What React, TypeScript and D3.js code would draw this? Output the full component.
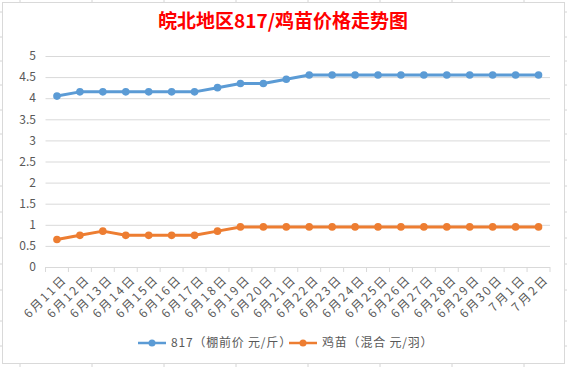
import React from "react";
import * as d3 from "d3";

// Price trend chart: 817 broiler (棚前价) vs chick price, daily.

const DATES = [
  "6月11日", "6月12日", "6月13日", "6月14日", "6月15日", "6月16日", "6月17日",
  "6月18日", "6月19日", "6月20日", "6月21日", "6月22日", "6月23日", "6月24日",
  "6月25日", "6月26日", "6月27日", "6月28日", "6月29日", "6月30日", "7月1日", "7月2日",
];
const PRICE_817 = [
  4.05, 4.15, 4.15, 4.15, 4.15, 4.15, 4.15, 4.25, 4.35, 4.35, 4.45,
  4.55, 4.55, 4.55, 4.55, 4.55, 4.55, 4.55, 4.55, 4.55, 4.55, 4.55,
];
const PRICE_CHICK = [
  0.65, 0.75, 0.85, 0.75, 0.75, 0.75, 0.75, 0.85, 0.95, 0.95, 0.95,
  0.95, 0.95, 0.95, 0.95, 0.95, 0.95, 0.95, 0.95, 0.95, 0.95, 0.95,
];
const Y_TICKS = [0, 0.5, 1, 1.5, 2, 2.5, 3, 3.5, 4, 4.5, 5];
const SERIES_NAMES = ["817（棚前价 元/斤）", "鸡苗（混合 元/羽）"];

// spreadsheet cell grid peeking out around the chart object
const SHEET_COLS = [20, 92, 164, 236, 308, 380, 452, 524];
const SHEET_ROWS = [12, 37, 61, 85, 110, 134, 160, 186, 212, 238, 264, 290, 321, 346];

const W = 567;
const H = 367;
const BLUE = "#5B9BD5";
const ORANGE = "#ED7D31";
const GRID = "#D9D9D9";
const TEXT = "#595959";
const FONT = "'Noto Sans CJK SC', 'Noto Sans', sans-serif";

const PLOT = { left: 45.5, right: 550, top: 56, bottom: 267 };

export default function App() {
  const x = d3
    .scaleBand<string>()
    .domain(DATES)
    .range([PLOT.left, PLOT.right])
    .padding(0);
  const y = d3.scaleLinear().domain([0, 5]).range([PLOT.bottom, PLOT.top]);
  const cx = (d: string) => (x(d) ?? 0) + x.bandwidth() / 2;

  const line = d3
    .line<number>()
    .x((_, i) => cx(DATES[i]))
    .y((v) => y(v));

  const series = [
    { name: SERIES_NAMES[0], values: PRICE_817, color: BLUE },
    { name: SERIES_NAMES[1], values: PRICE_CHICK, color: ORANGE },
  ];

  const legendItems = [
    { x: 138, color: BLUE, name: SERIES_NAMES[0] },
    { x: 289, color: ORANGE, name: SERIES_NAMES[1] },
  ];

  return (
    <svg
      width={W}
      height={H}
      style={{ position: "fixed", left: 0, top: 0, background: "#fff" }}
      fontFamily={FONT}
    >
      {/* sheet grid stubs */}
      {SHEET_COLS.map((c) => (
        <g key={"c" + c}>
          <line x1={c} x2={c} y1={0} y2={2} stroke="#D4D4D4" />
          <line x1={c} x2={c} y1={364} y2={H} stroke="#D4D4D4" />
        </g>
      ))}
      {SHEET_ROWS.map((r) => (
        <g key={"r" + r}>
          <line x1={0} x2={2} y1={r} y2={r} stroke="#D4D4D4" />
          <line x1={565} x2={W} y1={r} y2={r} stroke="#D4D4D4" />
        </g>
      ))}

      {/* chart frame */}
      <rect x={2.5} y={2.5} width={562} height={361} fill="#fff" stroke={GRID} />

      <text
        x={283}
        y={28}
        textAnchor="middle"
        fontSize={19}
        fontWeight="bold"
        fill="#FF0000"
      >
        皖北地区817/鸡苗价格走势图
      </text>

      {/* gridlines + y labels */}
      {Y_TICKS.map((t) => (
        <g key={t}>
          {t !== 0 && (
            <line x1={PLOT.left} x2={PLOT.right} y1={y(t) + 0.5} y2={y(t) + 0.5} stroke={GRID} />
          )}
          <text x={36} y={y(t)} dy="0.35em" textAnchor="end" fontSize={12} fill={TEXT}>
            {t}
          </text>
        </g>
      ))}

      {/* x axis */}
      <line x1={PLOT.left} x2={PLOT.right} y1={PLOT.bottom + 0.5} y2={PLOT.bottom + 0.5} stroke={GRID} />
      {[...DATES.map((d) => x(d) ?? 0), PLOT.right].map((px, i) => (
        <line key={i} x1={px} x2={px} y1={PLOT.bottom} y2={PLOT.bottom + 5} stroke={GRID} />
      ))}
      {DATES.map((d) => (
        <text
          key={d}
          transform={`translate(${cx(d) + 5},${PLOT.bottom + 7}) rotate(-45)`}
          textAnchor="end"
          dy="0.7em"
          fontSize={12}
          letterSpacing={2.2}
          fill={TEXT}
        >
          {d}
        </text>
      ))}

      {/* series */}
      {series.map((s) => (
        <g key={s.name}>
          <path
            d={line(s.values) ?? ""}
            fill="none"
            stroke={s.color}
            strokeWidth={3}
            strokeLinejoin="round"
            strokeLinecap="round"
          />
          {s.values.map((v, i) => (
            <circle key={i} cx={cx(DATES[i])} cy={y(v)} r={3.8} fill={s.color} />
          ))}
        </g>
      ))}

      {/* legend */}
      {legendItems.map((l) => (
        <g key={l.name} transform={`translate(${l.x},343)`}>
          <line x1={0} x2={28} y1={0} y2={0} stroke={l.color} strokeWidth={2.5} />
          <circle cx={14} cy={0} r={3.5} fill={l.color} />
          <text x={33} y={0} dy="0.35em" fontSize={12} letterSpacing={0.8} fill={TEXT}>
            {l.name}
          </text>
        </g>
      ))}
    </svg>
  );
}
